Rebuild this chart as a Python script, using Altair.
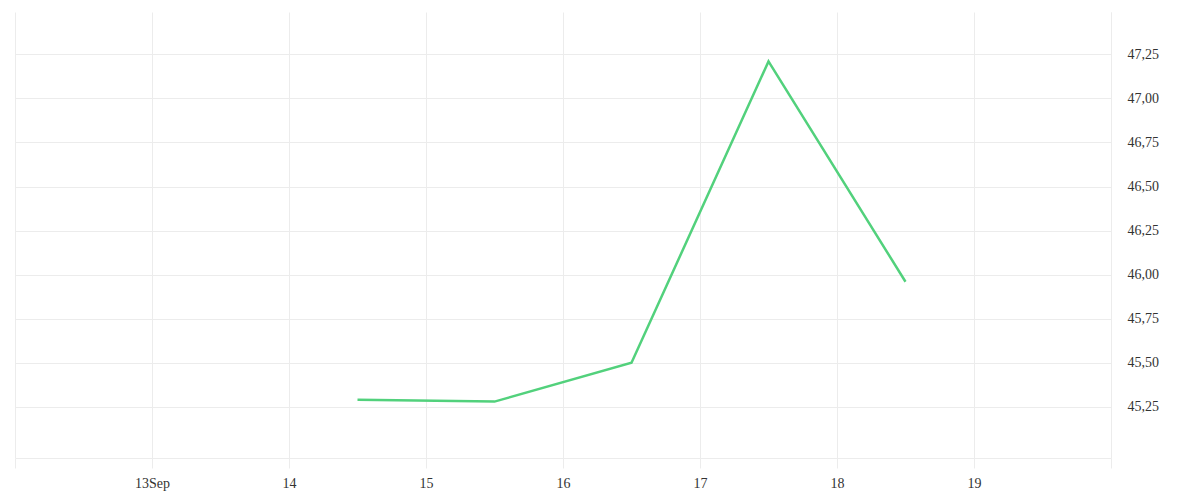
import altair as alt
import pandas as pd

dates = ["2023-09-14T12:00:00", "2023-09-15T12:00:00", "2023-09-16T12:00:00",
         "2023-09-17T12:00:00", "2023-09-18T12:00:00"]
values = [45.29, 45.28, 45.50, 47.21, 45.96]
x_tick_days = [12, 13, 14, 15, 16, 17, 18, 19, 20]
y_ticks = [45.25, 45.50, 45.75, 46.00, 46.25, 46.50, 46.75, 47.00, 47.25]

df = pd.DataFrame({"date": dates, "value": values})

FONT = "Liberation Serif"
GRID = "#ececec"

x_values = [alt.DateTime(year=2023, month=9, date=d) for d in x_tick_days]

chart = alt.Chart(df).mark_line(color="#52d17c", strokeWidth=2.5).encode(
    x=alt.X("date:T",
            scale=alt.Scale(domain=[alt.DateTime(year=2023, month=9, date=12),
                                    alt.DateTime(year=2023, month=9, date=20)]),
            axis=alt.Axis(values=x_values, title=None, grid=True, gridColor=GRID,
                          domainColor=GRID, tickColor=GRID, tickSize=10,
                          labelPadding=8, labelFont=FONT, labelFontSize=14,
                          labelColor="#333333",
                          labelExpr="date(datum.value) == 13 ? '13Sep' : ((date(datum.value) == 12 || date(datum.value) == 20) ? '' : '' + date(datum.value))")),
    y=alt.Y("value:Q",
            scale=alt.Scale(domain=[44.96, 47.49], nice=False, zero=False),
            axis=alt.Axis(orient="right", values=y_ticks, title=None, grid=True,
                          gridColor=GRID, domain=True, domainColor=GRID, ticks=False,
                          tickSize=0, labelPadding=16, labelFont=FONT, labelFontSize=14,
                          labelColor="#333333",
                          labelExpr="replace(format(datum.value, '.2f'), '.', ',')")),
).properties(
    width=1096, height=446,
    padding={"left": 7, "top": 4, "right": 60, "bottom": 40},
    autosize=alt.AutoSizeParams(type="none"),
).configure_view(stroke=None)

chart.save("out.html", embed_options={"renderer": "svg", "actions": False})
